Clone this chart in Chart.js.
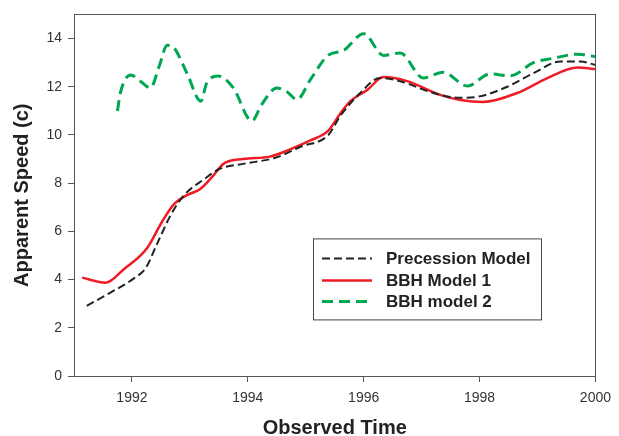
<!DOCTYPE html>
<html>
<head>
<meta charset="utf-8">
<script src="https://cdn.jsdelivr.net/npm/chart.js@4/dist/chart.umd.min.js"></script>
<style>
  html, body { margin: 0; padding: 0; background: #fff; }
  #wrap { width: 619px; height: 436px; }
</style>
</head>
<body>
<div id="wrap"><canvas id="speedChart" width="619" height="436"></canvas></div>
<script>
// precession model (black dashed)
const precessionYears = [1991.22, 1991.63, 1992.04, 1992.24, 1992.43, 1992.67, 1992.9, 1993.25, 1993.52, 1993.92,
  1994.5, 1994.9, 1995.39, 1995.6, 1995.94, 1996.28, 1996.63, 1997.2, 1997.67, 1998.0, 1998.48, 1998.93,
  1999.4, 1999.74, 2000];
const precessionSpeed = [2.91, 3.46, 4.06, 4.49, 5.46, 6.68, 7.5, 8.17, 8.6, 8.8,
  9.07, 9.5, 10.0, 10.8, 11.74, 12.36, 12.23, 11.74, 11.54, 11.6, 12.0, 12.56,
  13.05, 13.05, 12.9];

// BBH model 1 (red)
const bbh1Years = [1991.14, 1991.55, 1991.86, 1992.26, 1992.52, 1992.73, 1992.95, 1993.18, 1993.4, 1993.58,
  1993.92, 1994.38, 1994.73, 1995.08, 1995.39, 1995.6, 1995.77, 1996.06, 1996.34, 1996.75, 1997.32,
  1997.67, 1998.06, 1998.65, 1999.17, 1999.69, 2000];
const bbh1Speed = [4.08, 3.87, 4.43, 5.3, 6.4, 7.14, 7.5, 7.76, 8.3, 8.8,
  9.0, 9.1, 9.4, 9.77, 10.18, 10.9, 11.4, 11.86, 12.4, 12.23, 11.66,
  11.45, 11.37, 11.74, 12.36, 12.8, 12.73];

// BBH model 2 (green dashed)
const bbh2Years = [1991.75, 1991.8, 1991.98, 1992.15, 1992.32, 1992.47, 1992.61, 1992.73, 1992.95, 1993.19,
  1993.29, 1993.49, 1993.75, 1994.07, 1994.24, 1994.5, 1994.67, 1994.85, 1995.08, 1995.39, 1995.65,
  1996.0, 1996.34, 1996.63, 1997.03, 1997.37, 1997.79, 1998.18, 1998.53, 1998.93, 1999.27, 1999.69, 2000];
const bbh2Speed = [10.99, 11.74, 12.49, 12.22, 11.95, 12.85, 13.72, 13.6, 12.56, 11.4,
  12.15, 12.44, 11.95, 10.58, 11.26, 11.95, 11.8, 11.47, 12.29, 13.31, 13.5,
  14.2, 13.3, 13.4, 12.36, 12.6, 12.03, 12.53, 12.45, 13.0, 13.18, 13.35, 13.25];

const xTicks = [1992, 1994, 1996, 1998, 2000];
const yTicks = [0, 2, 4, 6, 8, 10, 12, 14];

const toPoints = (xs, ys) => xs.map((x, i) => ({ x: x, y: ys[i] }));

const axisColor = "#555";
const textColor = "#333";
const fontFamily = "'Liberation Sans', Arial, sans-serif";

// frame round the plot + legend box inside
const framePlugin = {
  id: "frame",
  afterDraw(chart) {
    const ctx = chart.ctx;
    const a = chart.chartArea;
    ctx.save();
    ctx.strokeStyle = axisColor;
    ctx.lineWidth = 1;
    ctx.strokeRect(Math.round(a.left) + 0.5, Math.round(a.top) + 0.5,
      Math.round(a.right - a.left), Math.round(a.bottom - a.top));

    // legend
    const bx = a.left + 239, by = a.top + 224, bw = 228, bh = 81;
    ctx.fillStyle = "#fff";
    ctx.fillRect(bx, by, bw, bh);
    ctx.strokeStyle = "#444";
    ctx.strokeRect(bx + 0.5, by + 0.5, bw, bh);
    ctx.font = "bold 17px " + fontFamily;
    ctx.textBaseline = "middle";
    const rows = [20, 42, 63];
    chart.data.datasets.forEach((ds, i) => {
      const y = by + rows[i];
      ctx.beginPath();
      ctx.strokeStyle = ds.borderColor;
      ctx.lineWidth = ds.borderWidth;
      ctx.setLineDash(ds.borderDash || []);
      ctx.moveTo(bx + 9, y);
      ctx.lineTo(bx + 59, y);
      ctx.stroke();
      ctx.setLineDash([]);
      ctx.fillStyle = "#222";
      ctx.fillText(ds.label, bx + 73, y + 1);
    });
    ctx.restore();
  }
};

new Chart(document.getElementById("speedChart").getContext("2d"), {
  type: "line",
  data: {
    datasets: [
      {
        label: "Precession Model",
        data: toPoints(precessionYears, precessionSpeed),
        borderColor: "#222",
        borderWidth: 2,
        borderDash: [8, 4],
        pointRadius: 0,
        cubicInterpolationMode: "monotone",
        fill: false
      },
      {
        label: "BBH Model 1",
        data: toPoints(bbh1Years, bbh1Speed),
        borderColor: "#ee1c25",
        borderWidth: 2.5,
        pointRadius: 0,
        cubicInterpolationMode: "monotone",
        fill: false
      },
      {
        label: "BBH model 2",
        data: toPoints(bbh2Years, bbh2Speed),
        borderColor: "#00a651",
        borderWidth: 3,
        borderDash: [11, 6],
        pointRadius: 0,
        cubicInterpolationMode: "monotone",
        fill: false
      }
    ]
  },
  options: {
    responsive: false,
    animation: false,
    layout: { padding: { top: 11, right: 23, left: 0, bottom: 0 } },
    plugins: {
      legend: { display: false },
      tooltip: { enabled: false }
    },
    scales: {
      x: {
        type: "linear",
        min: 1991,
        max: 2000,
        afterBuildTicks: (axis) => { axis.ticks = xTicks.map(v => ({ value: v })); },
        afterFit: (axis) => { axis.height = 60; },
        grid: { display: true, drawOnChartArea: false, drawTicks: true, tickLength: 6, color: axisColor },
        border: { color: axisColor },
        ticks: {
          padding: 8,
          color: textColor,
          font: { family: fontFamily, size: 14 },
          maxRotation: 0,
          callback: (v) => String(v)
        },
        title: {
          display: true,
          text: "Observed Time",
          color: "#222",
          font: { family: fontFamily, size: 20, weight: "bold" },
          padding: { top: 0, bottom: -4 }
        }
      },
      y: {
        min: 0,
        max: 15,
        afterBuildTicks: (axis) => { axis.ticks = yTicks.map(v => ({ value: v })); },
        afterFit: (axis) => { axis.width = 74; },
        grid: { display: true, drawOnChartArea: false, drawTicks: true, tickLength: 6, color: axisColor },
        border: { color: axisColor },
        ticks: {
          padding: 6,
          color: textColor,
          font: { family: fontFamily, size: 14 }
        },
        title: {
          display: true,
          text: "Apparent Speed (c)",
          color: "#222",
          font: { family: fontFamily, size: 20, weight: "bold" },
          padding: { top: 10, bottom: 0 }
        }
      }
    }
  },
  plugins: [framePlugin]
});
</script>
</body>
</html>
